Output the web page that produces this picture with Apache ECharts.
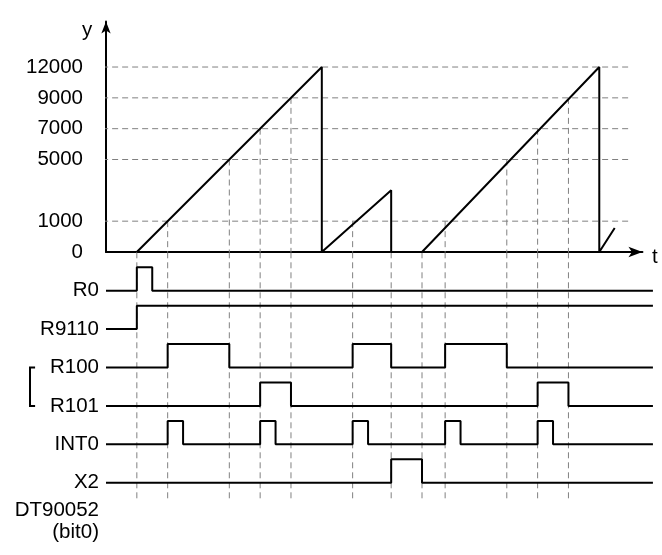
<!DOCTYPE html>
<html><head><meta charset="utf-8">
<script src="https://cdn.jsdelivr.net/npm/echarts@6/dist/echarts.min.js"></script>
<style>html,body{margin:0;padding:0;background:#fff}#c{width:662px;height:555px}</style>
</head><body><div id="c"></div>
<script>
// ---- data ----
// counter axis: tick values and their schematic (non-linear) step on the axis
const yTickValues = [0, 1000, 5000, 7000, 9000, 12000];
const yTickSteps  = [0, 1, 3, 4, 5, 6];
// counter value (ramp) vertices
const rampTimes  = [1, 7, 7, 9.25, 9.25, 10.25, 16, 16, 16.5];
const rampValues = [0, 12000, 0, 3000, 0, 0, 12000, 0, 780];
// horizontal reference levels
const gridLevels = [12000, 9000, 7000, 5000, 1000];
// vertical guide lines: time and the level they start from
const guideTimes = [1, 2, 4, 5, 6, 8, 9.25, 10.25, 11, 13, 14, 15];
const guideFrom  = [0, 1000, 5000, 7000, 9000, 1000, 0, 0, 1000, 5000, 7000, 9000];
// digital signals: names and toggle times (all start low)
const signalNames = ['R0', 'R9110', 'R100', 'R101', 'INT0', 'X2', 'DT90052\n(bit0)'];
const signalEdges = [
  [1, 1.5],
  [1],
  [2, 4, 8, 9.25, 11, 13],
  [5, 6, 14, 15],
  [2, 2.5, 5, 5.5, 8, 8.5, 11, 11.5, 14, 14.5],
  [9.25, 10.25],
  null
];
// rows grouped by the bracket
const bracketRows = [2, 3];

// ---- layout constants ----
const U = 30.83;
const ROW = 38.4;
const T_AXIS_END = 17.4;
const T_SIG_END = 17.74;
const Y_AXIS_END = 7.48;
const PULSE = 0.61;
const FONT = '"Liberation Sans", Arial, sans-serif';
const FS = 20.5;

function toStep(v) {
  for (let i = 1; i < yTickValues.length; i++) {
    if (v <= yTickValues[i]) {
      const a = yTickValues[i - 1], b = yTickValues[i];
      return yTickSteps[i - 1] + (v - a) / (b - a) * (yTickSteps[i] - yTickSteps[i - 1]);
    }
  }
  return yTickSteps[yTickSteps.length - 1];
}

const dashStyle = { color: '#808080', width: 1, type: [6, 4] };
const solid = { color: '#000', width: 2 };
const series = [];

gridLevels.forEach(v => {
  series.push({ type: 'line', xAxisIndex: 0, yAxisIndex: 0, clip: false, symbol: 'none', silent: true, z: 1,
    lineStyle: dashStyle, data: [[-0.45, toStep(v)], [17.03, toStep(v)]] });
});
guideTimes.forEach((t, i) => {
  if (guideFrom[i] > 0) {
    series.push({ type: 'line', xAxisIndex: 0, yAxisIndex: 0, clip: false, symbol: 'none', silent: true, z: 1,
      lineStyle: dashStyle, data: [[t, toStep(guideFrom[i])], [t, 0]] });
  }
  series.push({ type: 'line', xAxisIndex: 1, yAxisIndex: 1, clip: false, symbol: 'none', silent: true, z: 1,
    lineStyle: dashStyle, data: [[t, -1], [t, 5.45]] });
});
series.push({ type: 'line', xAxisIndex: 0, yAxisIndex: 0, clip: false, symbol: 'none', silent: true, z: 5,
  lineStyle: solid, data: rampTimes.map((t, i) => [t, toStep(rampValues[i])]) });
signalEdges.forEach((edges, row) => {
  if (!edges) return;
  const pts = [];
  let level = 0;
  pts.push([0, row]);
  edges.forEach(t => {
    pts.push([t, row - level * PULSE]);
    level = 1 - level;
    pts.push([t, row - level * PULSE]);
  });
  pts.push([T_SIG_END, row - level * PULSE]);
  series.push({ type: 'line', xAxisIndex: 1, yAxisIndex: 1, clip: false, symbol: 'none', silent: true, z: 5,
    lineStyle: solid, data: pts });
});

const chart = echarts.init(document.getElementById('c'), null, { renderer: 'canvas' });
chart.setOption({
  animation: false,
  backgroundColor: '#fff',
  grid: [
    { left: 106, top: 252 - Y_AXIS_END * U, width: T_AXIS_END * U, height: Y_AXIS_END * U },
    { left: 106, top: 252.3, width: T_SIG_END * U, height: 7 * ROW }
  ],
  xAxis: [
    { type: 'value', gridIndex: 0, min: 0, max: T_AXIS_END,
      axisLine: { show: true, symbol: ['none', 'arrow'], symbolSize: [8, 14], lineStyle: { color: '#000', width: 2 } },
      axisTick: { show: false }, axisLabel: { show: false }, splitLine: { show: false } },
    { type: 'value', gridIndex: 1, min: 0, max: T_SIG_END, show: false, splitLine: { show: false } }
  ],
  yAxis: [
    { type: 'value', gridIndex: 0, min: 0, max: Y_AXIS_END, interval: 1,
      axisLine: { show: true, symbol: ['none', 'arrow'], symbolSize: [7, 12], lineStyle: { color: '#000', width: 2 } },
      axisTick: { show: false }, splitLine: { show: false },
      axisLabel: { margin: 23, color: '#000', fontSize: FS, fontFamily: FONT,
        formatter: v => { const i = yTickSteps.indexOf(v); return i >= 0 ? String(yTickValues[i]) : ''; } } },
    { type: 'value', gridIndex: 1, inverse: true, min: -1, max: 6, interval: 1,
      axisLine: { show: false }, axisTick: { show: false }, splitLine: { show: false },
      axisLabel: { margin: 7, color: '#000', fontSize: FS, lineHeight: 22, fontFamily: FONT, align: 'right',
        formatter: v => (v >= 0 && v < signalNames.length) ? signalNames[v] : '' } }
  ],
  graphic: [
    { type: 'text', left: 82, top: 20, style: { text: 'y', fill: '#000', font: FS + 'px ' + FONT } },
    { type: 'text', left: 652, top: 247, style: { text: 't', fill: '#000', font: FS + 'px ' + FONT } }
  ],
  series: series
});

// bracket grouping R100 / R101, placed through the signal axes
const pTop = chart.convertToPixel({ xAxisIndex: 1, yAxisIndex: 1 }, [-2.465, bracketRows[0]]);
const pBot = chart.convertToPixel({ xAxisIndex: 1, yAxisIndex: 1 }, [-2.465, bracketRows[1]]);
const tick = chart.convertToPixel({ xAxisIndex: 1, yAxisIndex: 1 }, [-2.3, bracketRows[0]]);
chart.setOption({
  graphic: [
    { type: 'text', left: 82, top: 20, style: { text: 'y', fill: '#000', font: FS + 'px ' + FONT } },
    { type: 'text', left: 652, top: 247, style: { text: 't', fill: '#000', font: FS + 'px ' + FONT } },
    { type: 'polyline', silent: true, z: 10,
      shape: { points: [[tick[0], pTop[1]], [pTop[0], pTop[1]], [pBot[0], pBot[1]], [tick[0], pBot[1]]] },
      style: { stroke: '#000', lineWidth: 2, fill: null } }
  ]
});
</script></body></html>
